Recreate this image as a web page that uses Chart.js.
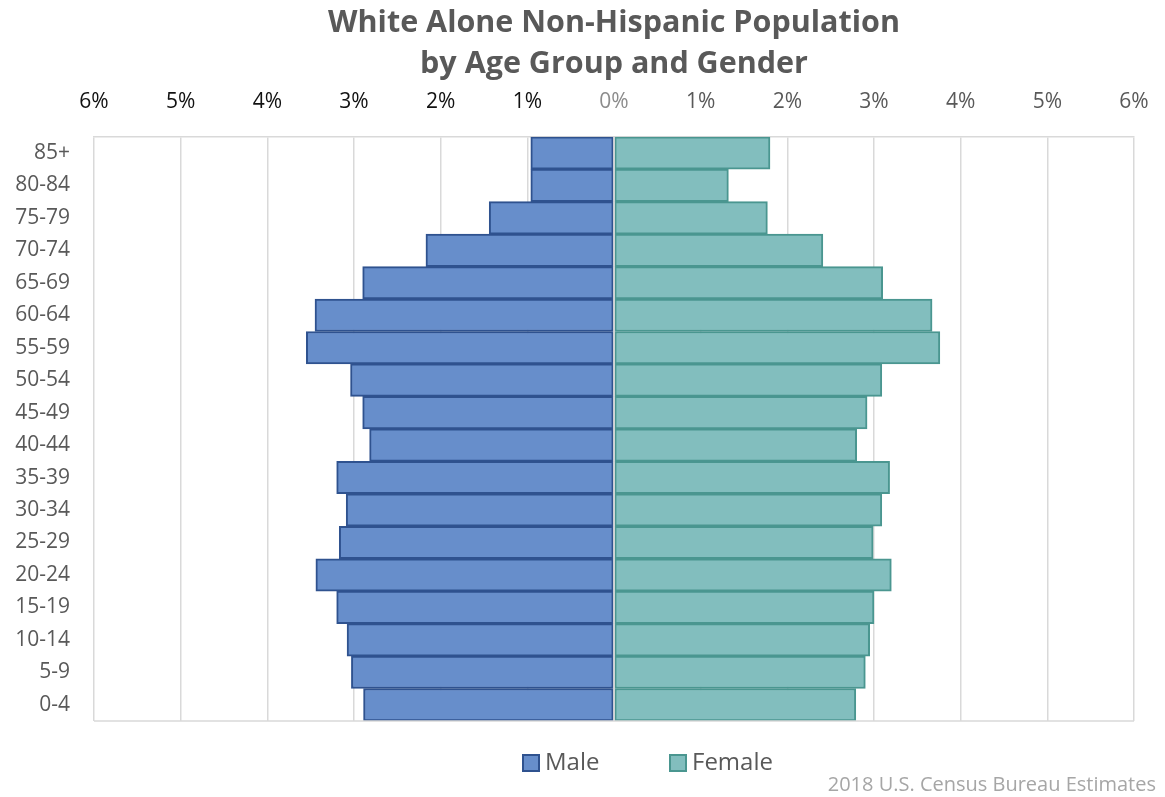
<!DOCTYPE html>
<html>
<head>
<meta charset="utf-8">
<script src="https://cdn.jsdelivr.net/npm/chart.js@4.4.1/dist/chart.umd.min.js"></script>
<style>
  html, body { margin: 0; padding: 0; background: #fff; }
</style>
</head>
<body>
<canvas id="pyramid-chart" width="1165" height="797"></canvas>
<script>
const pyramidCanvas = document.getElementById("pyramid-chart")

// age groups, youngest first (axis is reversed so 85+ sits on top)
const ageGroups = ["0-4", "5-9", "10-14", "15-19", "20-24", "25-29", "30-34", "35-39", "40-44",
  "45-49", "50-54", "55-59", "60-64", "65-69", "70-74", "75-79", "80-84", "85+"]

// share of population, percent
const malePct = [2.89, 3.03, 3.08, 3.2, 3.44, 3.17, 3.09, 3.2, 2.82,
  2.9, 3.04, 3.55, 3.45, 2.9, 2.17, 1.44, 0.96, 0.96]
const femalePct = [2.79, 2.9, 2.95, 3.0, 3.2, 2.99, 3.09, 3.18, 2.8,
  2.92, 3.09, 3.76, 3.67, 3.1, 2.41, 1.77, 1.32, 1.8]

const pctTicks = [-6, -5, -4, -3, -2, -1, 0, 1, 2, 3, 4, 5, 6]

const font = "'Open Sans', 'Noto Sans', sans-serif"
const gridColor = "#D9D9D9"

// frame, zero line, legend and source note
const decorations = {
  id: "decorations",
  afterDatasetsDraw(chart) {
    const { ctx, chartArea, scales } = chart
    const x0 = scales.x.getPixelForValue(0)
    ctx.save()
    ctx.strokeStyle = gridColor
    ctx.lineWidth = 1.5
    ctx.beginPath()
    ctx.moveTo(x0, chartArea.top)
    ctx.lineTo(x0, chartArea.bottom)
    ctx.moveTo(chartArea.left, chartArea.bottom)
    ctx.lineTo(chartArea.right, chartArea.bottom)
    ctx.stroke()
    ctx.restore()
  },
  afterDraw(chart) {
    const { ctx } = chart
    ctx.save()
    // legend
    ctx.font = "24px " + font
    ctx.textBaseline = "middle"
    ctx.textAlign = "left"
    const legendX = [523, 670]
    chart.data.datasets.forEach((ds, i) => {
      const x = legendX[i]
      const y = 763
      ctx.fillStyle = ds.backgroundColor
      ctx.strokeStyle = ds.borderColor
      ctx.lineWidth = 2
      ctx.fillRect(x, y - 8, 16, 16)
      ctx.strokeRect(x, y - 8, 16, 16)
      ctx.fillStyle = "#595959"
      ctx.fillText(ds.label, x + 22, y)
    })
    // source note
    ctx.font = "20px " + font
    ctx.fillStyle = "#A6A6A6"
    ctx.textAlign = "right"
    ctx.fillText("2018 U.S. Census Bureau Estimates", 1156, 785)
    ctx.restore()
  },
}

const pyramidData = {
  labels: ageGroups,
  datasets: [
    {
      label: "Male",
      data: malePct.map((v) => -v),
      backgroundColor: "#678ECB",
      borderColor: "#2F528F",
      borderWidth: 2,
      borderSkipped: false,
    },
    {
      label: "Female",
      data: femalePct,
      backgroundColor: "#82BEBE",
      borderColor: "#4A9690",
      borderWidth: 2,
      borderSkipped: false,
    },
  ],
}

const pyramidOptions = {
  indexAxis: "y",
  responsive: false,
  animation: false,
  barPercentage: 1,
  categoryPercentage: 1,
  layout: {
    padding: { left: 0, right: 31, top: 0, bottom: 76 },
  },
  scales: {
    x: {
      position: "top",
      stacked: true,
      min: -6,
      max: 6,
      afterBuildTicks: (scale) => {
        scale.ticks = pctTicks.map((v) => ({ value: v }))
      },
      afterFit: (scale) => {
        scale.height = 52
        scale.paddingLeft = 0
        scale.paddingRight = 0
      },
      grid: {
        color: gridColor,
        lineWidth: 1.5,
        drawTicks: false,
      },
      border: { display: true, color: gridColor, width: 1.5 },
      ticks: {
        padding: 22,
        font: { family: font, size: 21 },
        color: (c) => (c.tick.value < 0 ? "#111111" : c.tick.value === 0 ? "#8C8C8C" : "#595959"),
        callback: (v) => Math.abs(v) + "%",
      },
    },
    y: {
      stacked: true,
      reverse: true,
      afterFit: (scale) => {
        scale.width = 94
      },
      grid: { display: false, drawTicks: false },
      border: { display: false },
      ticks: {
        padding: 24,
        font: { family: font, size: 21 },
        color: "#595959",
      },
    },
  },
  plugins: {
    legend: { display: false },
    tooltip: { enabled: false },
    title: {
      display: true,
      fullSize: false,
      text: ["White Alone Non-Hispanic Population", "by Age Group and Gender"],
      color: "#595959",
      font: { family: font, size: 30.5, weight: "bold", lineHeight: 1.34 },
      padding: { top: 3, bottom: 0 },
    },
  },
}

let pyramidChart = new Chart(pyramidCanvas, {
  type: "bar",
  data: pyramidData,
  options: pyramidOptions,
  plugins: [decorations],
})
</script>
</body>
</html>
